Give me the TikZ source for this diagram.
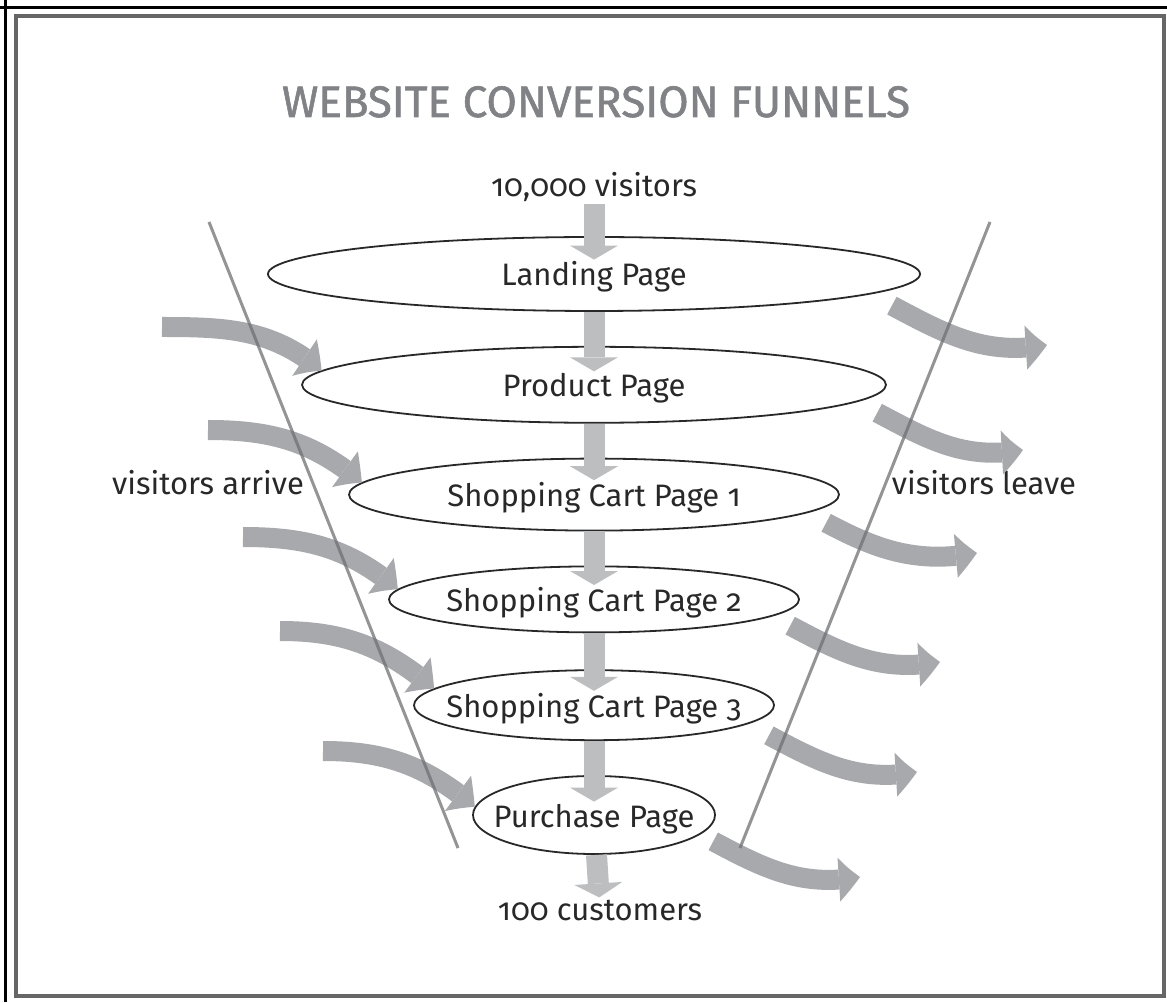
\documentclass[tikz,border=0pt]{standalone}
\usepackage{fontspec}
\setmainfont{Fira Sans}[Numbers=OldStyle]
\newfontfamily\headfont{Fira Sans}[FakeBold=1.3]
\usepackage{xcolor}
\definecolor{ink}{RGB}{40,40,40}
\definecolor{titlegray}{RGB}{128,130,133}
\definecolor{pale}{RGB}{188,190,192}
\definecolor{flowgray}{RGB}{167,169,172}
\definecolor{edge}{RGB}{110,112,115}
\usetikzlibrary{shapes,arrows.meta,bending,positioning}

\begin{document}
\begin{tikzpicture}[
  x=1pt, y=1pt,
  node distance=34pt,
  stage/.style={draw=ink, ellipse, line width=1.8pt, inner sep=0pt},
  lbl/.style={font=\fontsize{31}{36}\selectfont, text=ink, inner sep=2pt, anchor=base},
  down/.style={-{Triangle[width=48pt,length=14pt,line width=0pt]}, line width=21pt, color=pale},
  flow/.style={-{Triangle[width=44pt,length=22pt,line width=0pt,bend]}, line width=20pt, color=flowgray},
  funnel/.style={line width=3pt, color=edge, opacity=0.75}
]
\useasboundingbox (0,0) rectangle (1167,1002);
% frame
\draw[line width=3.5pt, black] (0,994.5) -- (1167,994.5);
\draw[line width=3.5pt, black] (5.5,0) -- (5.5,1002);
\draw[line width=4pt, black!60] (16,985.5) rectangle (1164,6.5);

\node[lbl, text=titlegray, font=\headfont\fontsize{44}{50}\selectfont] (title) at (596,885) {WEBSITE CONVERSION FUNNELS};

% funnel stages
\node[stage, minimum width=652pt, minimum height=74pt] (land) at (594,728) {};
\node[stage, minimum width=584pt, minimum height=76pt, below=of land] (prod) {};
\node[stage, minimum width=490pt, minimum height=72pt, below=of prod] (cart1) {};
\node[stage, minimum width=410pt, minimum height=66pt, below=of cart1] (cart2) {};
\node[stage, minimum width=360pt, minimum height=70pt, below=36pt of cart2] (cart3) {};
\node[stage, minimum width=242pt, minimum height=78pt, below=of cart3] (purch) {};

\node[lbl, yshift=-12pt] (landtxt) at (land) {Landing Page};
\node[lbl, yshift=-12pt] (prodtxt) at (prod) {Product Page};
\node[lbl, yshift=-12pt] (cart1txt) at (cart1) {Shopping Cart Page 1};
\node[lbl, yshift=-12pt] (cart2txt) at (cart2) {Shopping Cart Page 2};
\node[lbl, yshift=-12pt] (cart3txt) at (cart3) {Shopping Cart Page 3};
\node[lbl, yshift=-12pt] (purchtxt) at (purch) {Purchase Page};

\node[lbl] (visits) at (594,805) {10,000 visitors};
\node[lbl] (buyers) at (600,82) {100 customers};
\node[lbl] (arrive) at (208,507) {visitors arrive};
\node[lbl] (leave) at (984,507) {visitors leave};

% traffic down the funnel
\draw[down] (visits) -- (landtxt);
\draw[down] (land) -- (prodtxt);
\draw[down] (prod) -- (cart1txt);
\draw[down] (cart1) -- (cart2txt);
\draw[down] (cart2) -- (cart3txt);
\draw[down] (cart3) -- (purchtxt);
\draw[down] (purch) -- (buyers);

% visitors coming in
\coordinate (in1) at (162,675);
\coordinate (in2) at (208,572);
\coordinate (in3) at (243,465);
\coordinate (in4) at (280,371);
\coordinate (in5) at (323,251);
\draw[flow] (in1) to[out=0, in=140] (prod.177);
\draw[flow] (in2) to[out=0, in=140] (cart1.177);
\draw[flow] (in3) to[out=0, in=140] (cart2.177);
\draw[flow] (in4) to[out=0, in=140] (cart3.174);
\draw[flow] (in5) to[out=0, in=140] (purch.176);

% visitors dropping out
\coordinate (out1) at (1047,657);
\coordinate (out2) at (1023,552);
\coordinate (out3) at (977,449);
\coordinate (out4) at (940,340);
\coordinate (out5) at (917,230);
\coordinate (out6) at (860,125);
\draw[flow] ([yshift=-16pt]land.-3) to[out=-28, in=190] (out1);
\draw[flow] ([yshift=-18pt]prod.-2) to[out=-28, in=190] (out2);
\draw[flow] ([yshift=-16pt]cart1.-3) to[out=-28, in=190] (out3);
\draw[flow] ([yshift=-16pt]cart2.-3) to[out=-28, in=190] (out4);
\draw[flow] ([yshift=-21pt]cart3.-3) to[out=-28, in=190] (out5);
\draw[flow] ([yshift=-18pt]purch.-4) to[out=-28, in=190] (out6);

% funnel walls
\coordinate (wallnw) at (209,780);
\coordinate (wallsw) at (458,154);
\coordinate (wallne) at (990,780);
\coordinate (wallse) at (740,154);
\draw[funnel] (wallnw) -- (wallsw);
\draw[funnel] (wallne) -- (wallse);
\end{tikzpicture}
\end{document}
